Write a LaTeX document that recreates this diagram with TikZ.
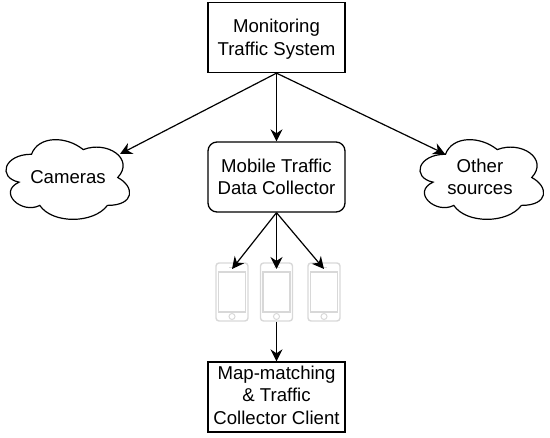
\documentclass[tikz,border=0pt]{standalone}
\usepackage{fontspec}
\setmainfont{Liberation Sans}
\usetikzlibrary{arrows.meta, positioning, calc}
\definecolor{pgray}{RGB}{216,216,216}
\tikzset{
  box/.style={draw, line width=1.3pt, minimum width=137pt, minimum height=70pt},
  label/.style={align=center, inner sep=0pt},
  arr/.style={line width=1.2pt, -{Stealth[length=12pt, width=12pt]}},
  phone/.style={draw=pgray, line width=1.4pt, rounded corners=3pt, minimum width=32pt, minimum height=58pt, inner sep=0pt},
  pics/cloudblob/.style={code={
    \draw[line width=1.2pt, x=138pt, y=-93pt] (.25,.25) .. controls (.05,.25) and (0,.5) .. (.16,.55)
      .. controls (0,.66) and (.18,.9) .. (.31,.8)
      .. controls (.4,1) and (.7,1) .. (.8,.8)
      .. controls (1,.8) and (1,.6) .. (.875,.5)
      .. controls (1,.3) and (.8,.1) .. (.625,.2)
      .. controls (.5,.05) and (.3,.05) .. (.25,.25) -- cycle;
  }}
}
\begin{document}
\begin{tikzpicture}[x=1pt, y=-1pt, font=\fontsize{18.6}{22.5}\selectfont]
  \useasboundingbox (0,0) rectangle (550,438);

  % Boxes
  \node[box] (monitor) at (276.5,37.5) {};
  \node[box, rounded corners=9pt] (mobile) at (276.5,177) {};
  \node[box] (client) at (276.5,397) {};
  \node[label] (monitortext) at (276.5,39) {Monitoring\\Traffic System};
  \node[label] (mobiletext) at (276.5,177) {Mobile Traffic\\Data Collector};
  \node[label] (clienttext) at (276.5,395) {Map-matching\\\& Traffic\\Collector Client};

  % Clouds
  \pic at (-3,131) {cloudblob};
  \pic at (411,131) {cloudblob};
  \node[label] (cameras) at (68,177) {Cameras};
  \node[label] (other) at (480,177) {Other\\sources};
  \coordinate (camerasin) at (120,154);
  \coordinate (otherin) at (445,154);

  % Phones
  \foreach \name/\x in {phoneL/232, phoneM/276.5, phoneR/324}{
    \node[phone] (\name) at (\x,292) {};
    \draw[pgray, line width=1.2pt] (\x-13.5,272) rectangle (\x+13.5,312);
    \draw[pgray, line width=1pt] (\x-3,267.5) -- (\x+3,267.5);
    \draw[pgray, line width=1pt] (\x,316.5) circle (3);
    \coordinate (\name-tip) at (\x,269);
  }

  % Connectors
  \draw[arr] (monitor.south) -- (camerasin);
  \draw[arr] (monitor.south) -- (mobile.north);
  \draw[arr] (monitor.south) -- (otherin);
  \draw[arr] (mobile.south) -- (phoneL-tip);
  \draw[arr] (mobile.south) -- (phoneM-tip);
  \draw[arr] (mobile.south) -- (phoneR-tip);
  \draw[arr] (phoneM.south) -- (client.north);
\end{tikzpicture}
\end{document}
